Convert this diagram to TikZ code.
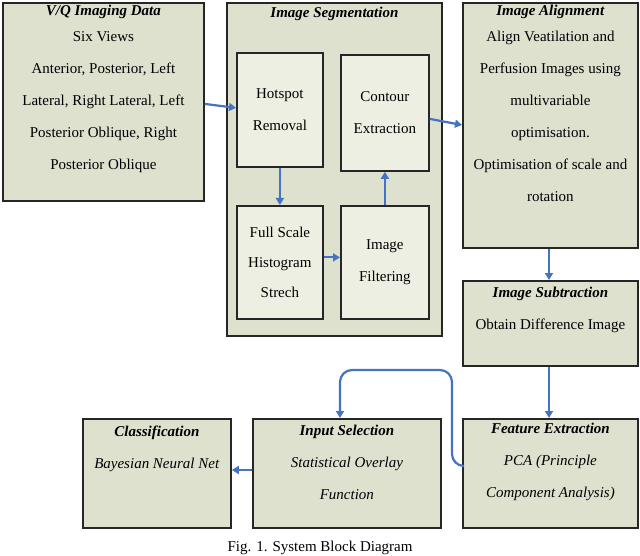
\documentclass[tikz,border=0pt]{standalone}
\usepackage{fontspec}
\setmainfont{Liberation Serif}
\usetikzlibrary{arrows.meta}
\definecolor{boxfill}{HTML}{DFE1CF}
\definecolor{innerfill}{HTML}{EEEFE3}
\definecolor{arr}{HTML}{4472C4}
\begin{document}
\begin{tikzpicture}[x=1pt,y=-1pt,
  box/.style={draw=black!85,line width=1.8pt,fill=boxfill},
  ibox/.style={draw=black!85,line width=1.8pt,fill=innerfill},
  txt/.style={align=center,font=\fontsize{15}{32}\selectfont},
  arrow/.style={draw=arr,line width=2.2pt,-{Triangle[length=7pt,width=8pt]}}]
\useasboundingbox (0,0) rectangle (640,556);
\clip (0,0) rectangle (640,556);
\node[box,minimum width=201,minimum height=198,anchor=north west] (vq) at (2,2) {};
\node[txt,anchor=north] at (vq.north) [yshift=0pt] {\textit{\textbf{V/Q Imaging Data}}\\[-6pt]Six Views\\Anterior, Posterior, Left\\Lateral, Right Lateral, Left\\Posterior Oblique, Right\\Posterior Oblique};
\node[box,minimum width=215,minimum height=333,anchor=north west] (seg) at (226,2) {};
\node[txt,anchor=north] at (seg.north) [yshift=-2pt] {\textit{\textbf{Image Segmentation}}};
\node[ibox,minimum width=86,minimum height=114,anchor=north west,txt] (hot) at (236,52) {Hotspot\\Removal};
\node[ibox,minimum width=88,minimum height=116,anchor=north west,txt] (con) at (340,54) {Contour\\Extraction};
\node[ibox,minimum width=86,minimum height=113,anchor=north west,txt,font=\fontsize{15}{30}\selectfont] (full) at (236,205) {Full Scale\\Histogram\\Strech};
\node[ibox,minimum width=88,minimum height=113,anchor=north west,txt] (filt) at (340,205) {Image\\Filtering};
\node[box,minimum width=175,minimum height=245,anchor=north west] (ali) at (462,2) {};
\node[txt,anchor=north] at (ali.north) [yshift=0pt] {\textit{\textbf{Image Alignment}}\\[-6pt]Align Veatilation and\\Perfusion Images using\\multivariable\\optimisation.\\Optimisation of scale and\\rotation};
\node[box,minimum width=175,minimum height=85,anchor=north west] (sub) at (462,280) {};
\node[txt,anchor=north] at (sub.north) [yshift=-4pt] {\textit{\textbf{Image Subtraction}}\\Obtain Difference Image};
\node[box,minimum width=175,minimum height=109,anchor=north west] (fe) at (462,418) {};
\node[txt,anchor=north] at (fe.north) [yshift=-2pt] {\textit{\textbf{Feature Extraction}}\\\textit{PCA (Principle}\\\textit{Component Analysis)}};
\node[box,minimum width=188,minimum height=109,anchor=north west] (is) at (252,418) {};
\node[txt,anchor=north] at (is.north) [yshift=-4pt] {\textit{\textbf{Input Selection}}\\\textit{Statistical Overlay}\\\textit{Function}};
\node[box,minimum width=148,minimum height=109,anchor=north west] (cl) at (82,418) {};
\node[txt,anchor=north] at (cl.north) [yshift=-4pt] {\textit{\textbf{Classification}}\\\textit{Bayesian Neural Net}};
\node[font=\fontsize{15}{17}\selectfont,anchor=north] (cap) at (320,538) {Fig. 1. System Block Diagram};
\draw[arrow] ([yshift=-2pt]vq.east) -- ([yshift=2pt]hot.west);
\draw[arrow] ([yshift=-6pt]con.east) -- (ali.west |- 0,125);
\draw[arrow] (hot.south) -- (full.north);
\draw[arrow] ([yshift=5pt]full.east) -- ([yshift=5pt]full.east -| filt.west);
\draw[arrow] (filt.north) -- (con.south);
\draw[arrow] (ali.south -| 549,0) -- (sub.north -| 549,0);
\draw[arrow] (sub.south -| 549,0) -- (fe.north -| 549,0);
\draw[arrow,rounded corners=12pt] (fe.west |- 0,466) -- (452,466) -- (452,370) -- (340,370) -- (is.north -| 340,0);
\draw[arrow] (is.west |- 0,470) -- (cl.east |- 0,470);
\end{tikzpicture}
\end{document}
